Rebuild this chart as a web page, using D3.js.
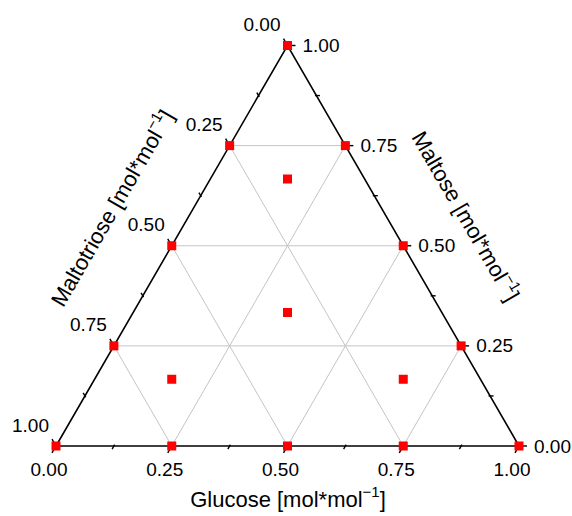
<!DOCTYPE html>
<html><head><meta charset="utf-8">
<script src="https://cdn.jsdelivr.net/npm/d3@7"></script>
<style>body{margin:0;background:#fff}svg{display:block}text{font-family:Arial,"Liberation Sans",sans-serif;fill:#000}</style>
</head><body>
<script>
// data: composition of each point (mol/mol)
const glucose     = [0, 0.25, 0.5, 0.75, 1, 0.75, 0.5, 0.25, 0, 0, 0, 0, 1/6, 1/3, 1/6, 2/3];
const maltose     = [0, 0, 0, 0, 0, 0.25, 0.5, 0.75, 1, 0.75, 0.5, 0.25, 2/3, 1/3, 1/6, 1/6];
const maltotriose = [1, 0.75, 0.5, 0.25, 0, 0, 0, 0, 0, 0.25, 0.5, 0.75, 1/6, 1/3, 2/3, 1/6];
const majorTicks = [0, 0.25, 0.5, 0.75, 1];
const minorTicks = [0.125, 0.375, 0.625, 0.875];
const gridValues = [0.25, 0.5, 0.75];
const titleGlucose = "Glucose [mol*mol";
const titleMaltose = "Maltose [mol*mol";
const titleMaltotriose = "Maltotriose [mol*mol";

const W = 572, H = 516;
const svg = d3.select("body").append("svg").attr("width", W).attr("height", H);

const xs = d3.scaleLinear().domain([0, 1]).range([56, 519]);
const ys = d3.scaleLinear().domain([0, 1]).range([446, 45.5]);
// ternary projection (g, m) -> pixel
const P = (g, m) => [xs(g + m / 2), ys(m)];
const fmt = d3.format(".2f");

// grid
const grid = svg.append("g").attr("stroke", "#c4c4c4").attr("stroke-width", 1).attr("fill", "none");
gridValues.forEach(v => {
  let a = P(v, 0), b = P(v, 1 - v);
  grid.append("line").attr("x1", a[0]).attr("y1", a[1]).attr("x2", b[0]).attr("y2", b[1]);
  a = P(0, v); b = P(1 - v, v);
  grid.append("line").attr("x1", a[0]).attr("y1", a[1]).attr("x2", b[0]).attr("y2", b[1]);
  a = P(0, 1 - v); b = P(1 - v, 0);
  grid.append("line").attr("x1", a[0]).attr("y1", a[1]).attr("x2", b[0]).attr("y2", b[1]);
});

// triangle
const verts = [P(0, 0), P(1, 0), P(0, 1)];
svg.append("path").attr("d", d3.line()(verts) + "Z").attr("fill", "none")
  .attr("stroke", "#000").attr("stroke-width", 1.6).attr("stroke-linejoin", "miter");

const c60 = Math.cos(Math.PI / 3), s60 = Math.sin(Math.PI / 3);
const axes = [
  { pos: v => P(v, 0), dir: [-c60, s60], lab: v => fmt(v), off: [-7, 23], anchor: "middle" },
  { pos: v => P(1 - v, v), dir: [1, 0], lab: v => fmt(v), off: [15, 0], anchor: "start" },
  { pos: v => P(0, 1 - v), dir: [-c60, -s60], lab: v => fmt(v), off: [-7, -21], anchor: "end" }
];
const tk = svg.append("g").attr("stroke", "#000").attr("stroke-width", 1.4);
axes.forEach(ax => {
  majorTicks.forEach(v => {
    const p = ax.pos(v);
    tk.append("line").attr("x1", p[0] - ax.dir[0] * 2).attr("y1", p[1] - ax.dir[1] * 2)
      .attr("x2", p[0] + ax.dir[0] * 8).attr("y2", p[1] + ax.dir[1] * 8);
    svg.append("text").attr("x", p[0] + ax.off[0]).attr("y", p[1] + ax.off[1])
      .attr("text-anchor", ax.anchor).attr("dominant-baseline", "central")
      .attr("font-size", 19).text(ax.lab(v));
  });
  minorTicks.forEach(v => {
    const p = ax.pos(v);
    tk.append("line").attr("x1", p[0] - ax.dir[0] * 1.5).attr("y1", p[1] - ax.dir[1] * 1.5)
      .attr("x2", p[0] + ax.dir[0] * 3.5).attr("y2", p[1] + ax.dir[1] * 3.5);
  });
});

// points
const pts = glucose.map((g, i) => ({ g, m: maltose[i], t: maltotriose[i] }));
const sz = 9;
svg.append("g").selectAll("rect").data(pts).join("rect")
  .attr("x", d => P(d.g, d.m)[0] - sz / 2).attr("y", d => P(d.g, d.m)[1] - sz / 2)
  .attr("width", sz).attr("height", sz).attr("fill", "#ff0000");

// titles
function title(txt, x, y, rot) {
  const t = svg.append("text").attr("transform", `translate(${x},${y}) rotate(${rot})`)
    .attr("text-anchor", "middle").attr("dominant-baseline", "central").attr("font-size", 22);
  t.append("tspan").text(txt);
  t.append("tspan").attr("font-size", 15).attr("dy", -8).text("\u22121");
  t.append("tspan").attr("dy", 8).text("]");
}
title(titleGlucose, 288, 499, 0);
title(titleMaltotriose, 112, 208, -60);
title(titleMaltose, 466, 216, 60);
</script>
</body></html>
